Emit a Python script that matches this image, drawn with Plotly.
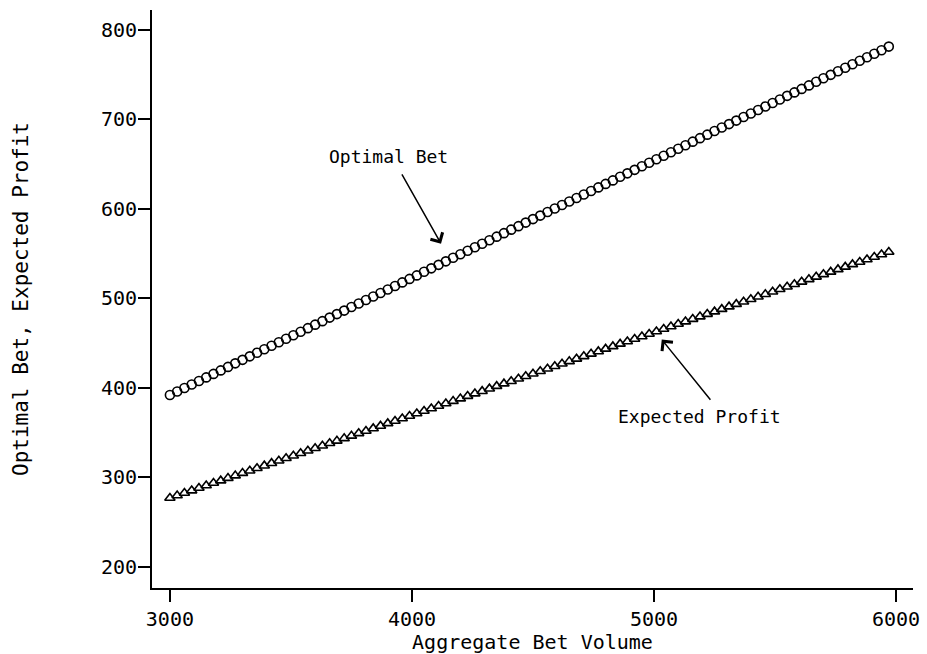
import plotly.graph_objects as go

# Aggregate bet volume (x) at which the optimum was evaluated
volume = [
    3000, 3030, 3060, 3090, 3120, 3150, 3180, 3210, 3240, 3270,
    3300, 3330, 3360, 3390, 3420, 3450, 3480, 3510, 3540, 3570,
    3600, 3630, 3660, 3690, 3720, 3750, 3780, 3810, 3840, 3870,
    3900, 3930, 3960, 3990, 4020, 4050, 4080, 4110, 4140, 4170,
    4200, 4230, 4260, 4290, 4320, 4350, 4380, 4410, 4440, 4470,
    4500, 4530, 4560, 4590, 4620, 4650, 4680, 4710, 4740, 4770,
    4800, 4830, 4860, 4890, 4920, 4950, 4980, 5010, 5040, 5070,
    5100, 5130, 5160, 5190, 5220, 5250, 5280, 5310, 5340, 5370,
    5400, 5430, 5460, 5490, 5520, 5550, 5580, 5610, 5640, 5670,
    5700, 5730, 5760, 5790, 5820, 5850, 5880, 5910, 5940, 5970,
]

optimal_bet = [
    392.0, 395.9, 399.9, 403.8, 407.7, 411.7, 415.6, 419.5, 423.4, 427.4,
    431.3, 435.2, 439.2, 443.1, 447.0, 451.0, 454.9, 458.8, 462.7, 466.7,
    470.6, 474.5, 478.5, 482.4, 486.3, 490.3, 494.2, 498.1, 502.0, 506.0,
    509.9, 513.8, 517.8, 521.7, 525.6, 529.6, 533.5, 537.4, 541.3, 545.3,
    549.2, 553.1, 557.1, 561.0, 564.9, 568.9, 572.8, 576.7, 580.6, 584.6,
    588.5, 592.4, 596.4, 600.3, 604.2, 608.2, 612.1, 616.0, 619.9, 623.9,
    627.8, 631.7, 635.7, 639.6, 643.5, 647.5, 651.4, 655.3, 659.2, 663.2,
    667.1, 671.0, 675.0, 678.9, 682.8, 686.8, 690.7, 694.6, 698.5, 702.5,
    706.4, 710.3, 714.3, 718.2, 722.1, 726.1, 730.0, 733.9, 737.8, 741.8,
    745.7, 749.6, 753.6, 757.5, 761.4, 765.4, 769.3, 773.2, 777.1, 781.1,
]

expected_profit = [
    277.0, 279.8, 282.6, 285.3, 288.1, 290.9, 293.7, 296.4, 299.2, 302.0,
    304.8, 307.5, 310.3, 313.1, 315.9, 318.6, 321.4, 324.2, 327.0, 329.7,
    332.5, 335.3, 338.1, 340.8, 343.6, 346.4, 349.2, 351.9, 354.7, 357.5,
    360.3, 363.0, 365.8, 368.6, 371.4, 374.1, 376.9, 379.7, 382.5, 385.2,
    388.0, 390.8, 393.6, 396.3, 399.1, 401.9, 404.7, 407.4, 410.2, 413.0,
    415.8, 418.5, 421.3, 424.1, 426.9, 429.6, 432.4, 435.2, 438.0, 440.7,
    443.5, 446.3, 449.1, 451.8, 454.6, 457.4, 460.2, 462.9, 465.7, 468.5,
    471.3, 474.0, 476.8, 479.6, 482.4, 485.1, 487.9, 490.7, 493.5, 496.2,
    499.0, 501.8, 504.6, 507.3, 510.1, 512.9, 515.7, 518.4, 521.2, 524.0,
    526.8, 529.5, 532.3, 535.1, 537.9, 540.6, 543.4, 546.2, 549.0, 551.7,
]

x_ticks = [3000, 4000, 5000, 6000]
y_ticks = [200, 300, 400, 500, 600, 700, 800]

FONT = "DejaVu Sans Mono"

fig = go.Figure()
fig.add_trace(go.Scatter(
    x=volume, y=optimal_bet, mode="markers", name="Optimal Bet",
    marker=dict(symbol="circle-open", size=9, color="black",
                line=dict(color="black", width=1.6)),
))
fig.add_trace(go.Scatter(
    x=volume, y=expected_profit, mode="markers", name="Expected Profit",
    marker=dict(symbol="triangle-up-open", size=9, color="black",
                line=dict(color="black", width=1.6)),
))

# labels with arrows pointing at each series
fig.add_annotation(x=3905, y=658, text="Optimal Bet", showarrow=False,
                   font=dict(family=FONT, size=18, color="black"))
fig.add_annotation(x=4120, y=561, ax=3955, ay=640, axref="x", ayref="y",
                   text="", showarrow=True, arrowhead=4, arrowsize=1.8,
                   arrowwidth=1.5, arrowcolor="black")
fig.add_annotation(x=5188, y=368, text="Expected Profit", showarrow=False,
                   font=dict(family=FONT, size=18, color="black"))
fig.add_annotation(x=5032, y=454, ax=5238, ay=385, axref="x", ayref="y",
                   text="", showarrow=True, arrowhead=4, arrowsize=1.8,
                   arrowwidth=1.5, arrowcolor="black")

axis_common = dict(
    showgrid=False, zeroline=False, showline=True, linecolor="black",
    linewidth=2, ticks="outside", ticklen=12, tickwidth=1.5,
    tickcolor="black", mirror=False,
    tickfont=dict(family=FONT, size=20, color="black"),
)

fig.update_layout(
    width=927, height=654,
    paper_bgcolor="white", plot_bgcolor="white",
    showlegend=False,
    margin=dict(l=152, r=7, t=10, b=66),
    xaxis=dict(
        range=[2926, 6070], tickvals=x_ticks,
        title=dict(text="Aggregate Bet Volume",
                   font=dict(family=FONT, size=20, color="black"),
                   standoff=2),
        **axis_common,
    ),
    yaxis=dict(
        range=[176.5, 822], tickvals=y_ticks, ticklabelstandoff=-3,
        title=dict(text="Optimal Bet, Expected Profit",
                   font=dict(family=FONT, size=21, color="black"),
                   standoff=67),
        **axis_common,
    ),
)

fig.write_html("out.html")
